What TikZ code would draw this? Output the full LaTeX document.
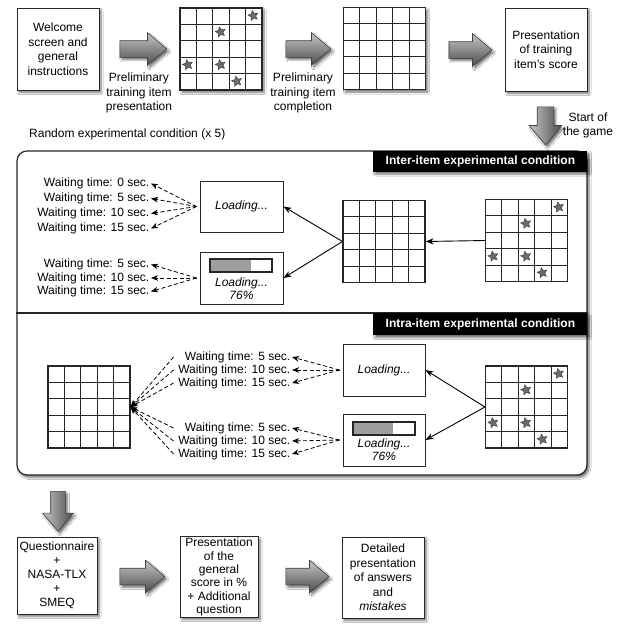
\documentclass[tikz,border=0pt]{standalone}
\usepackage{fontspec}
\setmainfont{Liberation Sans}
\usetikzlibrary{shapes.geometric,shapes.arrows,arrows.meta,calc,shadows.blur}

\newcommand\mkgrid[3]{%
  \node[gridbox,#3] (#1) at (#2) {};
  \foreach \gi in {1,2,3,4}{%
    \draw[gline] ($(#1.north west)!\gi/5!(#1.north east)$) -- ($(#1.south west)!\gi/5!(#1.south east)$);
    \draw[gline] ($(#1.north west)!\gi/5!(#1.south west)$) -- ($(#1.north east)!\gi/5!(#1.south east)$);
  }%
}
\newcommand\mkstars[1]{%
  \foreach \gc/\gr in {4/0,2/1,0/3,2/3,3/4}{%
    \node[gstar] at ($(#1.north west)+({(\gc+0.5)*16.4},{(\gr+0.5)*16.4})$) {};
  }%
}

\begin{document}
\begin{tikzpicture}[x=1pt,y=-1pt,
  font=\fontsize{12}{14.5}\selectfont,
  shad/.style={blur shadow={shadow xshift=2pt,shadow yshift=-2.5pt,shadow blur steps=6,shadow opacity=55,shadow blur radius=2pt}},
  mybox/.style={draw=black!85,line width=1,fill=white,align=center,inner sep=1pt},
  sbox/.style={mybox,shad},
  gridbox/.style={draw=black!85,line width=1.1,fill=white,minimum width=82,minimum height=82,inner sep=0},
  gline/.style={black!85,line width=1},
  gstar/.style={star,star points=5,star point ratio=2.1,minimum size=10.5,inner sep=0,fill=gray!85!black,draw=black!75,line width=0.5,rotate=12},
  fat/.style={single arrow,draw=black!75,line width=0.6,top color=gray!45,bottom color=black!70,inner sep=8pt,single arrow head extend=8pt,single arrow tip angle=80,shad},
  fatdown/.style={fat,shape border rotate=270,left color=gray!45,right color=black!70},
  lbox/.style={draw=black!85,line width=1,fill=white,minimum width=83,minimum height=51,inner sep=0,font=\fontsize{12}{13}\selectfont\itshape},
  ltext/.style={font=\fontsize{12}{13}\selectfont\itshape,align=center,inner sep=0},
  barfill/.style={fill=gray!75},
  barframe/.style={draw=black!85,line width=1.1},
  wlab/.style={anchor=east,inner sep=1.5pt},
  dasharr/.style={dash pattern=on 4pt off 2.5pt,line width=0.8,-{Stealth[length=7pt,width=5.5pt,inset=2pt]}},
  solarr/.style={line width=0.9,-{Stealth[length=8pt,width=6pt,inset=2.5pt]}},
  titlebar/.style={fill=black,text=white,font=\fontsize{12}{14}\selectfont\bfseries,minimum width=214,minimum height=21,inner sep=0,shad},
]
\fill[white] (0,0) rectangle (619,624);
\useasboundingbox (0,0) rectangle (619,624);

% ---- top row
\node[sbox,minimum width=82,minimum height=82] (wel) at (58,49) {Welcome\\screen and\\general\\instructions};
\node[fat,minimum height=47] (a1) at (138.5,49) {};
\node[align=center,inner sep=0] (p1) at (139,93) {Preliminary\\training item\\presentation};
\mkgrid{g1}{221,49}{shad}
\mkstars{g1}
\node[fat,minimum height=45] (a2) at (303.5,49) {};
\node[align=center,inner sep=0] (p2) at (303,93) {Preliminary\\training item\\completion};
\mkgrid{g2}{384.5,48.5}{shad}
\node[fat,minimum height=43] (a3) at (465.5,50) {};
\node[sbox,minimum width=82,minimum height=83] (sc) at (546,49.5) {Presentation\\of training\\item's score};
\node[fatdown,minimum height=38] (a4) at (545.5,121) {};
\node[align=center,inner sep=0] (sg) at (588,125.5) {Start of\\the game};
\node[anchor=west,inner sep=0] (rnd) at (29,134) {Random experimental condition (x 5)};

% ---- big box
\node[draw=black!85,line width=1.2,rounded corners=10,minimum width=570,minimum height=324,fill=white,shad] (big) at (302,313) {};
\draw[black!85,line width=1.2] (big.west) -- (big.east);
\node[titlebar,anchor=north east] (t1) at (big.north east) {Inter-item experimental condition};
\node[titlebar,anchor=north east,minimum height=22] (t2) at (big.east) {Intra-item experimental condition};

% ---- inter-item
\node[lbox] (lb1) at (241.5,206.5) {Loading...};
\node[lbox,minimum height=52] (lb2) at (241.5,278) {};
\fill[barfill] ($(lb2.center)+(-31.5,-19)$) rectangle ($(lb2.center)+(9.5,-6)$);
\draw[barframe] ($(lb2.center)+(-31.5,-19)$) rectangle ($(lb2.center)+(30.5,-6)$);
\node[ltext] (lt2) at ($(lb2.center)+(0,10.5)$) {Loading...\\76\%};

\mkgrid{g3}{384,241.5}{}
\mkgrid{g4}{526.5,240.5}{}
\mkstars{g4}
\draw[solarr] (g4.west) -- (g3.east);
\draw[solarr] (g3.west) -- (lb1.east);
\draw[solarr] (g3.west) -- (lb2.east);

\node[wlab] (w1) at (151,183.5) {Waiting time: 0 sec.};
\node[wlab] (w2) at (151,198.5) {Waiting time: 5 sec.};
\node[wlab] (w3) at (151,213.5) {Waiting time: 10 sec.};
\node[wlab] (w4) at (151,228.5) {Waiting time: 15 sec.};
\coordinate (f1) at ($(lb1.west)+(-3,0)$);
\foreach \n in {w1,w2,w3,w4} \draw[dasharr] (f1) -- (\n.east);

\node[wlab] (w5) at (151,264.5) {Waiting time: 5 sec.};
\node[wlab] (w6) at (151,278) {Waiting time: 10 sec.};
\node[wlab] (w7) at (151,291.5) {Waiting time: 15 sec.};
\coordinate (f2) at ($(lb2.west)+(-3,0)$);
\foreach \n in {w5,w6,w7} \draw[dasharr] (f2) -- (\n.east);

% ---- intra-item
\node[lbox,minimum width=82,minimum height=52] (lb3) at (384,370) {Loading...};
\node[lbox,minimum width=82,minimum height=52] (lb4) at (384,440) {};
\fill[barfill] ($(lb4.center)+(-31,-18)$) rectangle ($(lb4.center)+(9,-5)$);
\draw[barframe] ($(lb4.center)+(-31,-18)$) rectangle ($(lb4.center)+(31,-5)$);
\node[ltext] (lt4) at ($(lb4.center)+(0,10)$) {Loading...\\76\%};

\mkgrid{g5}{526.5,407}{}
\mkstars{g5}
\draw[solarr] (g5.west) -- (lb3.east);
\draw[solarr] (g5.west) -- (lb4.east);

\mkgrid{g6}{89,407}{}

\node[wlab] (v1) at (292,357) {Waiting time: 5 sec.};
\node[wlab] (v2) at (292,370) {Waiting time: 10 sec.};
\node[wlab] (v3) at (292,383) {Waiting time: 15 sec.};
\node[wlab] (v4) at (292,428) {Waiting time: 5 sec.};
\node[wlab] (v5) at (292,441) {Waiting time: 10 sec.};
\node[wlab] (v6) at (292,454) {Waiting time: 15 sec.};
\coordinate (f3) at ($(lb3.west)+(-3,0)$);
\coordinate (f4) at ($(lb4.west)+(-3,0)$);
\foreach \n in {v1,v2,v3} \draw[dasharr] (f3) -- (\n.east);
\foreach \n in {v4,v5,v6} \draw[dasharr] (f4) -- (\n.east);
\foreach \n in {v1,v2,v3} \draw[dasharr] ($(\n.west -| v2.west)+(-3,0)$) -- (g6.east);
\foreach \n in {v4,v5,v6} \draw[dasharr] ($(\n.west -| v5.west)+(-3,0)$) -- (g6.east);

% ---- bottom row
\node[fatdown,minimum height=40,inner sep=7pt,single arrow head extend=8pt] (a5) at (58,507) {};
\node[sbox,minimum width=80,minimum height=77,font=\fontsize{12}{14}\selectfont] (q) at (57,575.5) {Questionnaire\\+\\NASA-TLX\\+\\SMEQ};
\node[fat,minimum height=45] (a6) at (137.5,576.5) {};
\node[sbox,minimum width=78,minimum height=80,font=\fontsize{12}{13.4}\selectfont] (s2) at (219,577) {Presentation\\of the\\general\\score in \%\\+ Additional\\question};
\node[fat,minimum height=43] (a7) at (302.5,576.5) {};
\node[sbox,minimum width=82,minimum height=81,font=\fontsize{12}{14.6}\selectfont] (det) at (383,577.5) {Detailed\\presentation\\of answers\\and\\\textit{mistakes}};
\end{tikzpicture}
\end{document}
